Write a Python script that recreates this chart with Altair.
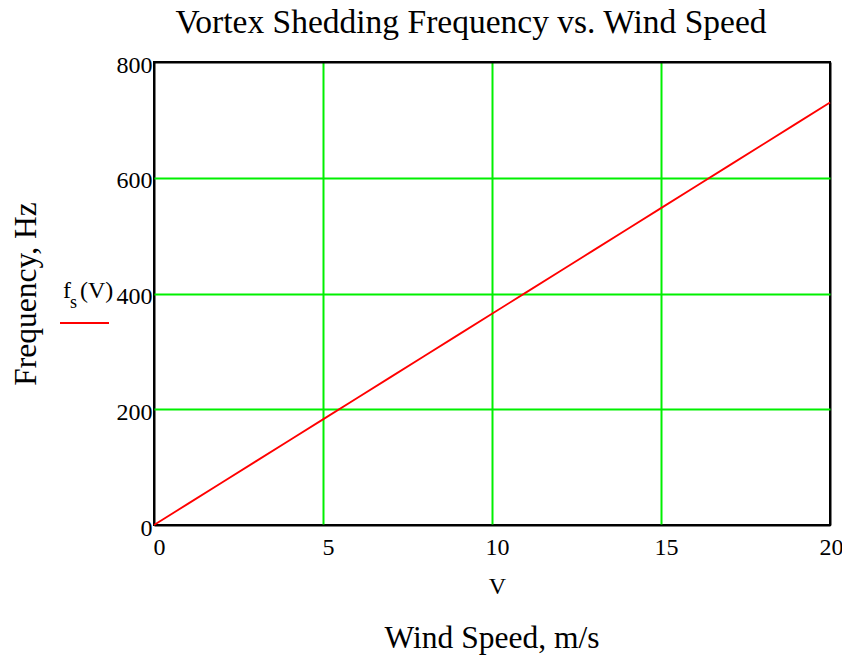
import altair as alt
import pandas as pd

# Data
wind_speed = [0, 1, 2, 3, 4, 5, 6, 7, 8, 9, 10, 11, 12, 13, 14, 15, 16, 17, 18, 19, 20]
frequency = [0, 36.5, 73, 109.5, 146, 182.5, 219, 255.5, 292, 328.5, 365,
             401.5, 438, 474.5, 511, 547.5, 584, 620.5, 657, 693.5, 730]
x_ticks = [0, 5, 10, 15, 20]
y_ticks = [0, 200, 400, 600, 800]

df = pd.DataFrame({"V": wind_speed, "fs": frequency})
one = pd.DataFrame({"k": [0]})

FONT = "Liberation Serif"
W, H = 676, 463
GREEN = "#00f000"

edge_test = "datum.value == 0 || datum.value == 20 || datum.value == 800"

line = alt.Chart(df).mark_line(color="#ff0000", strokeWidth=1.8).encode(
    x=alt.X("V:Q",
            scale=alt.Scale(domain=[0, 20], nice=False, zero=False),
            axis=alt.Axis(values=x_ticks, title="V", labelAlign="center",
                          labelOffset={"condition": {"test": "datum.value == 20", "value": 1}, "value": 5},
                          labelPadding=10, labelBaseline="top",
                          titleFontSize=24, titleX=343, titleY=68,
                          titleBaseline="alphabetic",
                          gridColor={"condition": {"test": edge_test, "value": "black"}, "value": GREEN})),
    y=alt.Y("fs:Q",
            scale=alt.Scale(domain=[0, 800], nice=False),
            axis=alt.Axis(values=y_ticks, title="Frequency, Hz", labelPadding=2,
                          labelBaseline="middle", labelOffset=3,
                          titleFontSize=31.5, titleX=-119, titleY=H / 2,
                          titleAngle=270, titleBaseline="alphabetic",
                          gridColor={"condition": {"test": edge_test, "value": "black"}, "value": GREEN})),
)

ann = alt.Chart(one)

legend_f = ann.mark_text(font=FONT, fontSize=24, align="left", baseline="alphabetic",
                         color="black").encode(
    x=alt.value(-91), y=alt.value(236), text=alt.value("f"))
legend_s = ann.mark_text(font=FONT, fontSize=18, align="left", baseline="alphabetic",
                         color="black").encode(
    x=alt.value(-84), y=alt.value(246), text=alt.value("s"))
legend_v = ann.mark_text(font=FONT, fontSize=24, align="left", baseline="alphabetic",
                         color="black").encode(
    x=alt.value(-74), y=alt.value(236), text=alt.value("(V)"))
legend_line = ann.mark_rule(color="#ff0000", strokeWidth=2).encode(
    x=alt.value(-94), x2=alt.value(-45), y=alt.value(261))

bottom_title = ann.mark_text(font=FONT, fontSize=31.5, align="center", baseline="alphabetic",
                             color="black").encode(
    x=alt.value(338), y=alt.value(586), text=alt.value("Wind Speed, m/s"))

chart = alt.layer(line, legend_f, legend_s, legend_v, legend_line, bottom_title).properties(
    width=W,
    height=H,
    autosize=alt.AutoSizeParams(type="none"),
    padding={"left": 146, "top": 54, "right": 12, "bottom": 131},
    title=alt.TitleParams("Vortex Shedding Frequency vs. Wind Speed", font=FONT, fontSize=33.5,
                          fontWeight="normal", color="black", anchor="middle", dx=-21,
                          offset=13),
).configure_view(
    stroke="black", strokeWidth=2
).configure_axis(
    grid=True, gridWidth=2, ticks=False, domain=False,
    labelFont=FONT, labelFontSize=24, labelColor="black",
    titleFont=FONT, titleFontWeight="normal", titleColor="black",
)

chart.save("out.html", embed_options={"renderer": "svg", "actions": False})
